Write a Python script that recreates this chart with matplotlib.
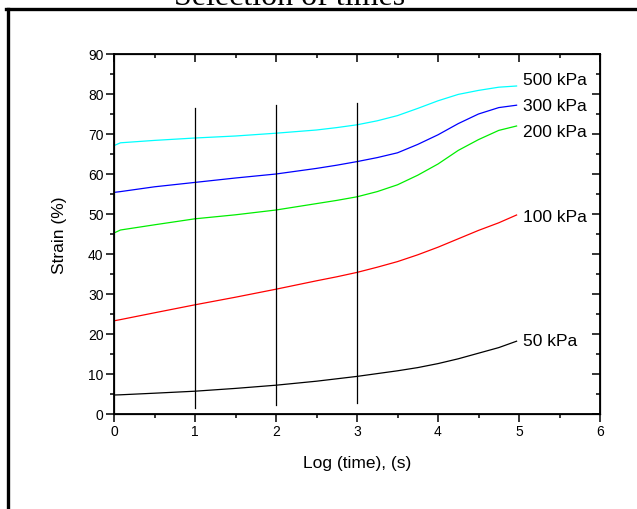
import matplotlib
matplotlib.use("Agg")
import matplotlib.pyplot as plt
from matplotlib.lines import Line2D
from matplotlib.ticker import MultipleLocator

plt.rcParams['font.family'] = ['Liberation Sans', 'DejaVu Sans']

# Data
log_time = [0, 0.08, 0.5, 1, 1.5, 2, 2.5, 2.75, 3, 3.25, 3.5, 3.75, 4, 4.25, 4.5, 4.75, 4.97]
strain_50 = [4.75, 4.8, 5.2, 5.7, 6.4, 7.2, 8.2, 8.8, 9.4, 10.1, 10.8, 11.6, 12.6, 13.8, 15.2, 16.6, 18.2]
strain_100 = [23.3, 23.6, 25.3, 27.3, 29.2, 31.2, 33.3, 34.3, 35.4, 36.7, 38.1, 39.8, 41.7, 43.8, 45.9, 47.8, 49.75]
strain_200 = [45.25, 46.0, 47.3, 48.8, 49.8, 51.0, 52.6, 53.4, 54.3, 55.6, 57.3, 59.7, 62.5, 65.9, 68.6, 70.9, 72.0]
strain_300 = [55.4, 55.6, 56.8, 57.9, 59.0, 60.0, 61.4, 62.2, 63.1, 64.1, 65.3, 67.4, 69.8, 72.6, 75.0, 76.6, 77.2]
strain_500 = [67.1, 67.8, 68.4, 69.0, 69.5, 70.2, 71.0, 71.6, 72.3, 73.3, 74.6, 76.4, 78.3, 79.9, 80.9, 81.7, 82.0]

series = [strain_50, strain_100, strain_200, strain_300, strain_500]
labels = ["50 kPa", "100 kPa", "200 kPa", "300 kPa", "500 kPa"]
colors = ["black", "#ff0000", "#00ee00", "#0000ff", "#00ffff"]
label_y = [18.3, 49.3, 70.7, 77.0, 83.7]

# selected times (vertical markers)
sel_times = [1, 2, 3]
sel_bottom = [1.5, 2.3, 2.75]
sel_top = [76.5, 77.3, 77.75]

fig = plt.figure(figsize=(6.37, 5.10), dpi=100)
ax = fig.add_axes([114/637, 95/510, 486/637, 360/510])

for y, c in zip(series, colors):
    ax.plot(log_time, y, color=c, lw=0.9)

for x, b, t in zip(sel_times, sel_bottom, sel_top):
    ax.plot([x, x], [b, t], color="black", lw=0.9)

for lab, ly in zip(labels, label_y):
    ax.text(5.05, ly, lab, fontsize=12.5, va="center", ha="left")

ax.set_xlim(0, 6)
ax.set_ylim(0, 90)
ax.xaxis.set_major_locator(MultipleLocator(1))
ax.xaxis.set_minor_locator(MultipleLocator(0.5))
ax.yaxis.set_major_locator(MultipleLocator(10))
ax.yaxis.set_minor_locator(MultipleLocator(5))
ax.tick_params(which="major", direction="out", length=5.5, width=1.1, labelsize=10, pad=2)
ax.tick_params(which="minor", direction="out", length=3, width=1.1)
for s in ax.spines.values():
    s.set_linewidth(1.3)

# top / right inward ticks
axr = ax.twinx()
axr.set_ylim(0, 90)
axr.yaxis.set_major_locator(MultipleLocator(10))
axr.yaxis.set_minor_locator(MultipleLocator(5))
axr.tick_params(which="major", direction="in", length=5.5, width=1.1, labelright=False)
axr.tick_params(which="minor", direction="in", length=3, width=1.1)
axt = ax.twiny()
axt.set_xlim(0, 6)
axt.xaxis.set_major_locator(MultipleLocator(1))
axt.xaxis.set_minor_locator(MultipleLocator(0.5))
axt.tick_params(which="major", direction="in", length=5.5, width=1.1, labeltop=False)
axt.tick_params(which="minor", direction="in", length=3, width=1.1)

ax.set_xlabel("Log (time), (s)", fontsize=12.5, labelpad=12)
ax.set_ylabel("Strain (%)", fontsize=12.5, labelpad=15)

# outer frame lines and cut-off title
fig.add_artist(Line2D([7.7/637, 7.7/637], [0, 1 - 10/510], color="black", lw=2.4, transform=fig.transFigure))
fig.add_artist(Line2D([6/637, 1], [1 - 10/510, 1 - 10/510], color="black", lw=2.4, transform=fig.transFigure))
fig.text(290/637, 1 - 5/510, "Selection of times", family="Liberation Serif", fontsize=23,
         ha="center", va="baseline")

fig.savefig("out.png", dpi=100)
